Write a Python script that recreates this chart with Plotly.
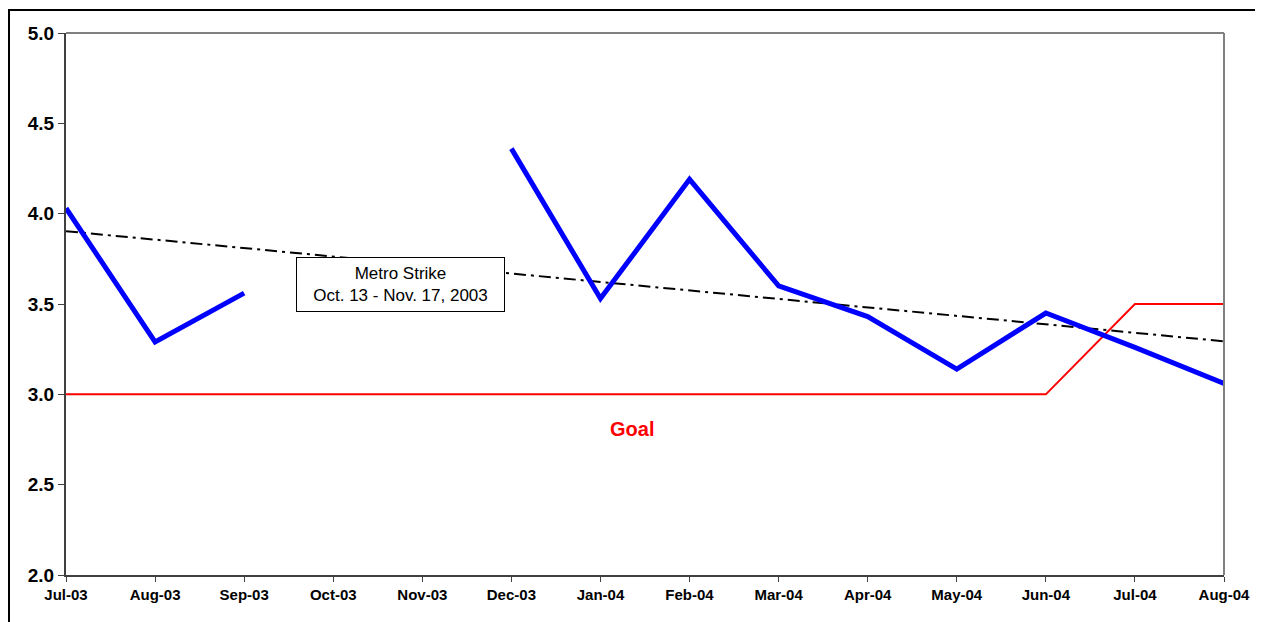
import numpy as np
import plotly.graph_objects as go

months = ["Jul-03", "Aug-03", "Sep-03", "Oct-03", "Nov-03", "Dec-03", "Jan-04",
          "Feb-04", "Mar-04", "Apr-04", "May-04", "Jun-04", "Jul-04", "Aug-04"]
values = [4.03, 3.29, 3.56, None, None, 4.36, 3.53, 4.19, 3.60, 3.43, 3.14, 3.45, 3.26, 3.06]
goal = [3.0, 3.0, 3.0, 3.0, 3.0, 3.0, 3.0, 3.0, 3.0, 3.0, 3.0, 3.0, 3.5, 3.5]
y_ticks = [2.0, 2.5, 3.0, 3.5, 4.0, 4.5, 5.0]

# linear trendline (least squares over available points)
idx = np.array([i for i, v in enumerate(values) if v is not None], dtype=float)
vals = np.array([v for v in values if v is not None], dtype=float)
slope, intercept = np.polyfit(idx, vals, 1)
trend_x = [0, len(months) - 1]
trend_y = [intercept + slope * t for t in trend_x]

FONT = "Arial, 'Liberation Sans', sans-serif"

W, H = 1255, 614
ML, MR, MT, MB = 58, 39, 25, 47
PW, PH = W - ML - MR, H - MT - MB

fig = go.Figure()
fig.add_trace(go.Scatter(
    x=[months[t] for t in trend_x], y=trend_y, mode="lines",
    line=dict(color="black", width=2, dash="12px,5px,3px,5px"),
    showlegend=False, hoverinfo="skip"))
fig.add_trace(go.Scatter(
    x=months, y=goal, mode="lines",
    line=dict(color="#FF0000", width=2), showlegend=False))
fig.add_trace(go.Scatter(
    x=months, y=values, mode="lines", connectgaps=False,
    line=dict(color="#0000FF", width=5), showlegend=False))

fig.update_layout(
    width=W, height=H,
    margin=dict(l=ML, r=MR, t=MT, b=MB),
    paper_bgcolor="white", plot_bgcolor="white",
    font=dict(family=FONT, color="black"),
    xaxis=dict(
        type="category", categoryorder="array", categoryarray=months,
        range=[0, len(months) - 1], showgrid=False, zeroline=False,
        showline=True, linecolor="#404040", linewidth=2,
        ticks="outside", ticklen=5, tickcolor="#404040", tickwidth=1,
        tickfont=dict(family=FONT, size=15, color="black", weight="bold"),
    ),
    yaxis=dict(
        range=[2.0, 5.0], tickvals=y_ticks, tickformat=".1f",
        showgrid=False, zeroline=False,
        showline=True, linecolor="#404040", linewidth=2,
        ticks="outside", ticklen=6, tickcolor="#404040", tickwidth=1,
        tickfont=dict(family=FONT, size=19, color="black", weight="bold"),
    ),
    shapes=[
        dict(type="line", xref="paper", yref="paper", x0=0, x1=1, y0=1, y1=1,
             line=dict(color="#808080", width=2)),
        dict(type="line", xref="paper", yref="paper", x0=1, x1=1, y0=0, y1=1,
             line=dict(color="#808080", width=2)),
        dict(type="rect", xref="paper", yref="paper",
             x0=-(ML - 1) / PW, x1=1 + (MR - 2) / PW,
             y0=-(MB + 20) / PH, y1=1 + (MT - 2) / PH,
             line=dict(color="black", width=2), layer="below"),
    ],
    annotations=[
        dict(x=3.75, y=3.61, xref="x", yref="y", showarrow=False,
             text="Metro Strike<br>Oct. 13 - Nov. 17, 2003",
             font=dict(family=FONT, size=17, color="black"),
             bgcolor="white", bordercolor="black", borderwidth=1,
             borderpad=1, width=205, height=51, align="center"),
        dict(x=6.35, y=2.81, xref="x", yref="y", showarrow=False,
             text="<b>Goal</b>",
             font=dict(family=FONT, size=20, color="#FF0000")),
    ],
)

fig.write_html("out.html")
